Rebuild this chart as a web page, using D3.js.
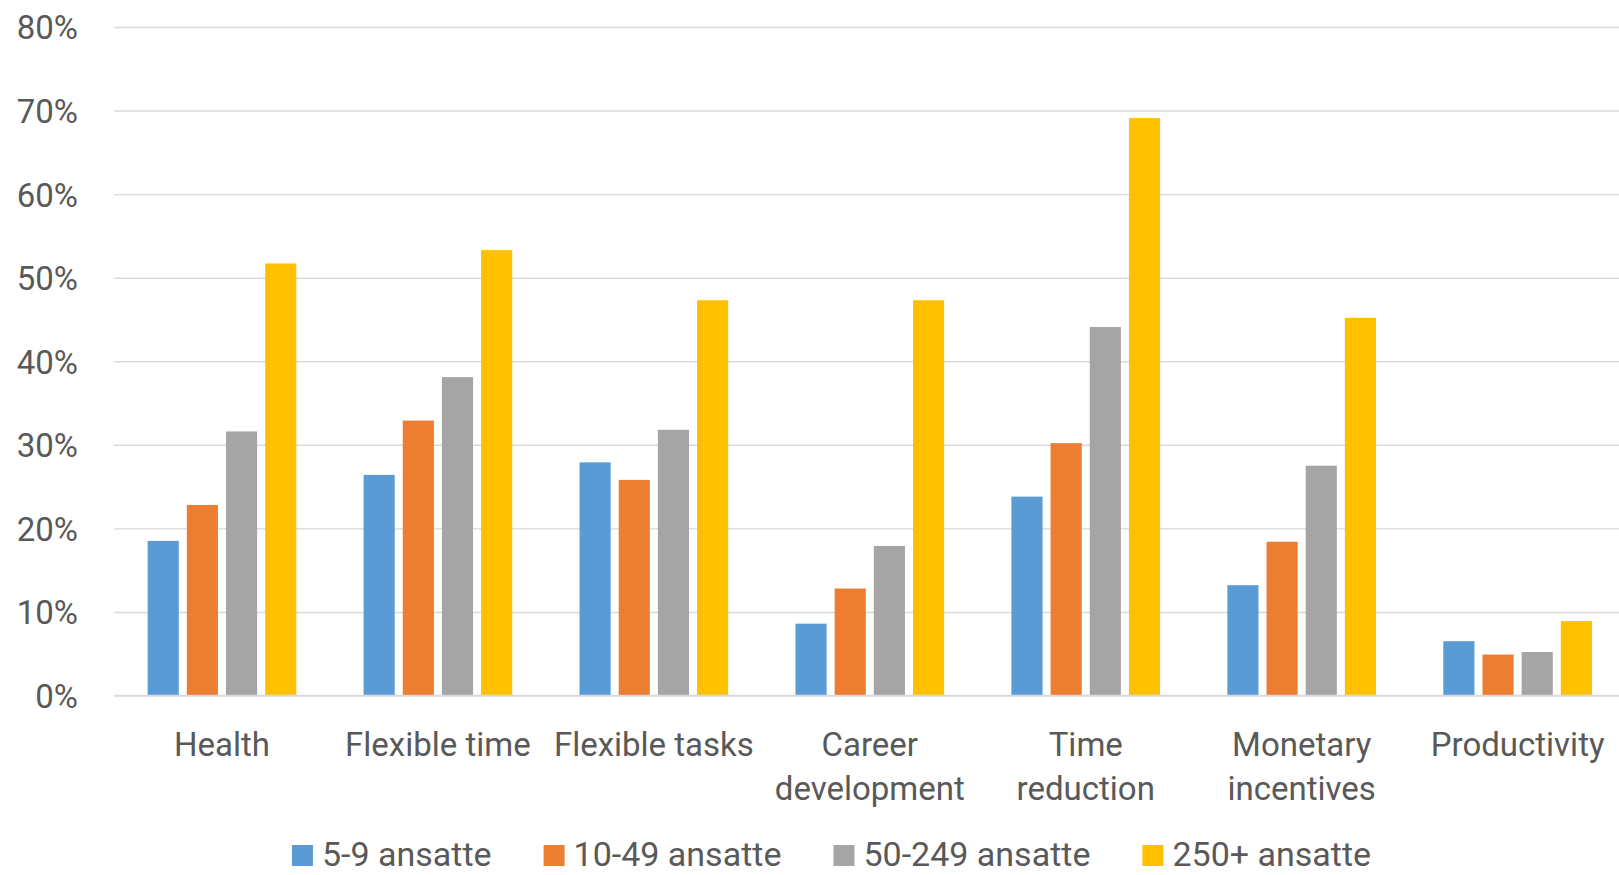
<!DOCTYPE html>
<html>
<head>
<meta charset="utf-8">
<script src="https://cdn.jsdelivr.net/npm/d3@7/dist/d3.min.js"></script>
<style>
  html, body { margin: 0; padding: 0; background: #ffffff; }
  svg { display: block; }
  text { font-family: Roboto, "Open Sans", "DejaVu Sans", sans-serif; fill: #595959; }
</style>
</head>
<body>
<svg id="chart" width="1619" height="875"></svg>
<script>
// Categories (line breaks mark where the axis label wraps)
const categories = [
  "Health",
  "Flexible time",
  "Flexible tasks",
  "Career\ndevelopment",
  "Time\nreduction",
  "Monetary\nincentives",
  "Productivity"
];

// Series names (legend)
const seriesNames = ["5-9 ansatte", "10-49 ansatte", "50-249 ansatte", "250+ ansatte"];

// Shares per category, one array per company-size series
const small   = [0.185, 0.264, 0.279, 0.086, 0.238, 0.132, 0.065];
const medium  = [0.228, 0.329, 0.258, 0.128, 0.302, 0.184, 0.049];
const larger  = [0.316, 0.381, 0.318, 0.179, 0.441, 0.275, 0.052];
const largest = [0.517, 0.533, 0.473, 0.473, 0.691, 0.452, 0.089];

const yTicks = [0, 0.1, 0.2, 0.3, 0.4, 0.5, 0.6, 0.7, 0.8];

const seriesColors = ["#5B9BD5", "#ED7D31", "#A5A5A5", "#FFC000"];

const seriesValues = [small, medium, larger, largest];

const svg = d3.select("#chart");
const W = 1619, H = 875;

svg.append("rect").attr("width", W).attr("height", H).attr("fill", "#ffffff");

const plot = { left: 114, right: 1625.6, top: 27, bottom: 695.5 };

const y = d3.scaleLinear().domain([0, 0.8]).range([plot.bottom, plot.top]);

const x0 = d3.scaleBand()
  .domain(d3.range(categories.length))
  .range([plot.left, plot.right])
  .paddingInner(0)
  .paddingOuter(0);

const x1 = d3.scaleBand()
  .domain(d3.range(seriesNames.length))
  .range([0, x0.bandwidth()])
  .paddingInner(8 / 39)
  .paddingOuter(0.859);

// Y axis with horizontal gridlines
const yAxis = d3.axisLeft(y)
  .tickValues(yTicks)
  .tickFormat(d3.format(".0%"))
  .tickSize(-(W - plot.left))
  .tickPadding(36);

const gy = svg.append("g")
  .attr("transform", `translate(${plot.left},0)`)
  .call(yAxis);
gy.select(".domain").remove();
gy.selectAll(".tick line")
  .attr("stroke", "#D9D9D9")
  .attr("stroke-width", 1.4);
gy.selectAll(".tick text")
  .attr("font-size", 33)
  .attr("font-family", "Roboto, sans-serif")
  .attr("fill", "#595959")
  .attr("dy", "0.36em");

// Bars
const groups = svg.append("g")
  .selectAll("g")
  .data(categories.map((c, i) => i))
  .join("g")
  .attr("transform", i => `translate(${x0(i)},0)`);

groups.selectAll("rect")
  .data(i => seriesValues.map((vals, s) => ({ s, v: vals[i] })))
  .join("rect")
  .attr("x", d => x1(d.s))
  .attr("width", x1.bandwidth())
  .attr("y", d => y(d.v))
  .attr("height", d => y(0) - y(d.v))
  .attr("fill", d => seriesColors[d.s]);

// Baseline drawn over the bar bottoms
svg.append("line")
  .attr("x1", plot.left).attr("x2", W)
  .attr("y1", y(0)).attr("y2", y(0))
  .attr("stroke", "#D9D9D9")
  .attr("stroke-width", 1.4);

// Category axis
const xAxis = d3.axisBottom(x0)
  .tickSize(0)
  .tickPadding(0)
  .tickFormat(i => categories[i]);

const gx = svg.append("g")
  .attr("transform", `translate(0,${plot.bottom})`)
  .call(xAxis);
gx.select(".domain").remove();
gx.selectAll(".tick text")
  .attr("font-size", 33)
  .attr("font-family", "Roboto, sans-serif")
  .attr("fill", "#595959")
  .attr("y", 0)
  .attr("dy", null)
  .each(function (i) {
    const t = d3.select(this);
    const lines = categories[i].split("\n");
    t.text(null);
    lines.forEach((ln, k) => {
      t.append("tspan")
        .attr("x", 0)
        .attr("y", 60.5 + k * 44)
        .text(ln);
    });
  });

// Legend
const legend = svg.append("g");
const items = legend.selectAll("g")
  .data(seriesNames.map((n, s) => ({ n, s })))
  .join("g");
items.append("rect")
  .attr("width", 21).attr("height", 21)
  .attr("y", 845)
  .attr("fill", d => seriesColors[d.s]);
items.append("text")
  .attr("x", 30)
  .attr("y", 866)
  .attr("font-size", 34)
  .text(d => d.n);

let cursor = 0;
const offsets = [];
items.each(function () {
  const w = d3.select(this).select("text").node().getComputedTextLength();
  offsets.push(cursor);
  cursor += 30 + w + 52;
});
const totalW = cursor - 52;
const start = 831.5 - totalW / 2;
items.attr("transform", (d, k) => `translate(${start + offsets[k]},0)`);
</script>
</body>
</html>
